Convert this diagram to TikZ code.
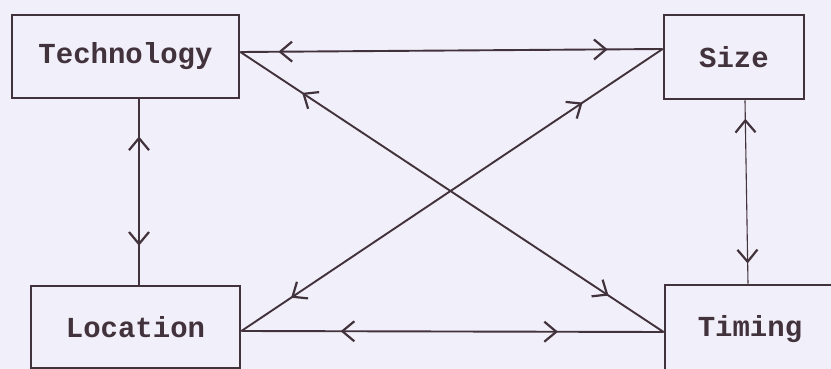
\documentclass[tikz,border=0pt]{standalone}
\usepackage{fontspec}
\setmonofont{Liberation Mono}
\usetikzlibrary{arrows.meta,decorations.markings}
\definecolor{ink}{RGB}{66,50,60}
\definecolor{paper}{RGB}{241,239,249}
\tikzset{
  box/.style={draw=ink, line width=2.8pt, rectangle, inner sep=0pt,
    font=\ttfamily\bfseries\fontsize{29}{29}\selectfont, text=ink},
  link/.style={draw=ink, line width=1.9pt},
  thinlink/.style={draw=ink, line width=1.1pt},
  twoway/.style 2 args={postaction={decorate}, decoration={markings,
    mark=at position #1 with {\arrowreversed[ink]{Straight Barb[length=12pt,width=20pt,line width=2.2pt]}},
    mark=at position #2 with {\arrow[ink]{Straight Barb[length=12pt,width=20pt,line width=2.2pt]}}}}
}
\begin{document}
\begin{tikzpicture}[x=1pt,y=-1pt]
\useasboundingbox (0,0) rectangle (831,369);
\fill[paper] (0,0) rectangle (831,369);
\clip (0,0) rectangle (831,369);
\node[box, minimum width=227pt, minimum height=83pt] (tech) at (125.5,56.5) {Technology};
\node[box, minimum width=140pt, minimum height=84pt] (size) at (734,57) {Size};
\node[box, minimum width=209pt, minimum height=82pt] (loc) at (135.5,327) {Location};
\node[box, minimum width=170pt, minimum height=88pt] (tim) at (750,329) {Timing};
% top horizontal
\draw[link, twoway={0.09}{0.87}] ([yshift=4.5pt]tech.east) -- ([yshift=8pt]size.west);
% bottom horizontal
\draw[link, twoway={0.235}{0.75}] ([yshift=-4pt]loc.east) -- ([yshift=-3pt]tim.west);
% diagonals
\draw[link, twoway={0.146}{0.87}] ([yshift=4.5pt]tech.east) -- ([yshift=-3pt]tim.west);
\draw[link, twoway={0.118}{0.81}] ([yshift=-4pt]loc.east) -- ([yshift=8pt]size.west);
% verticals
\draw[link, twoway={0.2}{0.79}] ([xshift=13.5pt]tech.south) -- ([xshift=3.5pt]loc.north);
\draw[thinlink, twoway={0.1}{0.89}] ([xshift=11pt]size.south) -- ([xshift=-2pt]tim.north);
\end{tikzpicture}
\end{document}
